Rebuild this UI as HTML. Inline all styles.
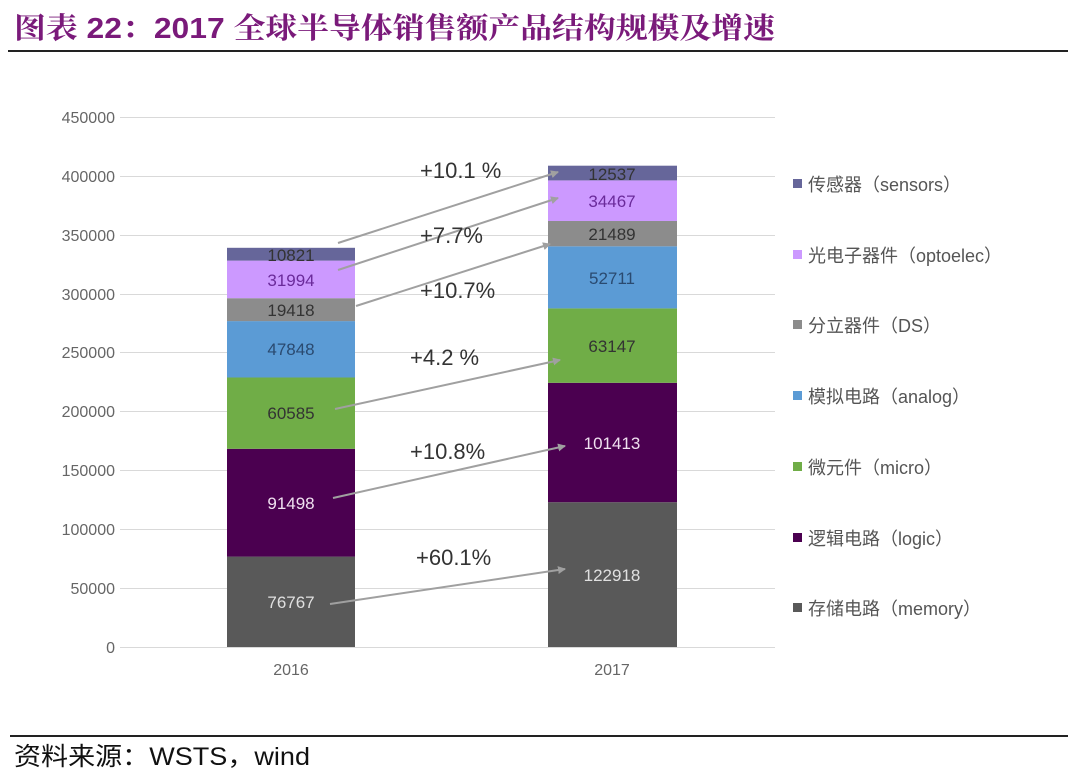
<!DOCTYPE html>
<html><head><meta charset="utf-8"><style>
html,body{margin:0;padding:0;background:#fff;}
svg{display:block;}
</style></head><body>
<svg width="1080" height="784" xmlns="http://www.w3.org/2000/svg" font-family="Liberation Sans, Noto Sans CJK SC, sans-serif">
<defs><marker id="ah" markerWidth="8" markerHeight="8" refX="7" refY="4" orient="auto" markerUnits="userSpaceOnUse"><path d="M0,0 L8,4 L0,8 z" fill="#a0a0a0"/></marker></defs>
<text x="14" y="38" font-size="29" font-weight="bold" fill="#7a1a7a" textLength="761" lengthAdjust="spacingAndGlyphs" font-family="Liberation Sans, Noto Serif CJK SC, serif">图表 22：2017 全球半导体销售额产品结构规模及增速</text>
<rect x="8" y="50" width="1060" height="2" fill="#222"/>
<g stroke="#d9d9d9" stroke-width="1">
<line x1="120" x2="775" y1="117.5" y2="117.5"/><line x1="120" x2="775" y1="176.5" y2="176.5"/><line x1="120" x2="775" y1="235.5" y2="235.5"/><line x1="120" x2="775" y1="294.5" y2="294.5"/><line x1="120" x2="775" y1="352.5" y2="352.5"/><line x1="120" x2="775" y1="411.5" y2="411.5"/><line x1="120" x2="775" y1="470.5" y2="470.5"/><line x1="120" x2="775" y1="529.5" y2="529.5"/><line x1="120" x2="775" y1="588.5" y2="588.5"/><line x1="120" x2="775" y1="647.5" y2="647.5"/>
</g>
<g font-size="16" fill="#666" text-anchor="end">
<text x="115" y="123">450000</text><text x="115" y="182">400000</text><text x="115" y="241">350000</text><text x="115" y="300">300000</text><text x="115" y="358">250000</text><text x="115" y="417">200000</text><text x="115" y="476">150000</text><text x="115" y="535">100000</text><text x="115" y="594">50000</text><text x="115" y="653">0</text>
</g>
<rect x="227" y="556.6" width="128" height="90.4" fill="#595959"/>
<rect x="227" y="448.8" width="128" height="107.8" fill="#4b0050"/>
<rect x="227" y="377.5" width="128" height="71.3" fill="#70ad47"/>
<rect x="227" y="321.1" width="128" height="56.4" fill="#5b9bd5"/>
<rect x="227" y="298.2" width="128" height="22.9" fill="#8c8c8c"/>
<rect x="227" y="260.6" width="128" height="37.6" fill="#cc99ff"/>
<rect x="227" y="247.8" width="128" height="12.8" fill="#66669a"/>
<rect x="548" y="502.2" width="129" height="144.8" fill="#595959"/>
<rect x="548" y="382.8" width="129" height="119.4" fill="#4b0050"/>
<rect x="548" y="308.4" width="129" height="74.4" fill="#70ad47"/>
<rect x="548" y="246.3" width="129" height="62.1" fill="#5b9bd5"/>
<rect x="548" y="221.0" width="129" height="25.3" fill="#8c8c8c"/>
<rect x="548" y="180.4" width="129" height="40.6" fill="#cc99ff"/>
<rect x="548" y="165.7" width="129" height="14.7" fill="#66669a"/>
<g font-size="17" text-anchor="middle">
<text x="291" y="608" fill="#e0e0e0">76767</text>
<text x="291" y="509" fill="#f0e0f0">91498</text>
<text x="291" y="419" fill="#333">60585</text>
<text x="291" y="355" fill="#2a4a70">47848</text>
<text x="291" y="316" fill="#333">19418</text>
<text x="291" y="286" fill="#6a2a9a">31994</text>
<text x="291" y="261" fill="#333">10821</text>
<text x="612" y="581" fill="#e0e0e0">122918</text>
<text x="612" y="449" fill="#f0e0f0">101413</text>
<text x="612" y="352" fill="#333">63147</text>
<text x="612" y="284" fill="#2a4a70">52711</text>
<text x="612" y="240" fill="#333">21489</text>
<text x="612" y="207" fill="#6a2a9a">34467</text>
<text x="612" y="180" fill="#333">12537</text>
</g>
<g stroke="#a0a0a0" stroke-width="2" marker-end="url(#ah)">
<line x1="338" y1="243" x2="558" y2="172"/>
<line x1="338" y1="270" x2="558" y2="198"/>
<line x1="356" y1="306" x2="550" y2="244"/>
<line x1="335" y1="409" x2="560" y2="360"/>
<line x1="333" y1="498" x2="565" y2="446"/>
<line x1="330" y1="604" x2="565" y2="569"/>
</g>
<g font-size="22" fill="#333">
<text x="420" y="178">+10.1 %</text>
<text x="420" y="243">+7.7%</text>
<text x="420" y="298">+10.7%</text>
<text x="410" y="365">+4.2 %</text>
<text x="410" y="459">+10.8%</text>
<text x="416" y="565">+60.1%</text>
</g>
<g font-size="16" fill="#666" text-anchor="middle">
<text x="291" y="675">2016</text><text x="612" y="675">2017</text>
</g>
<g font-size="18" fill="#555">
<rect x="793" y="179" width="9" height="9" fill="#66669a"/><text x="808" y="191">传感器（sensors）</text>
<rect x="793" y="250" width="9" height="9" fill="#cc99ff"/><text x="808" y="262">光电子器件（optoelec）</text>
<rect x="793" y="320" width="9" height="9" fill="#8c8c8c"/><text x="808" y="332">分立器件（DS）</text>
<rect x="793" y="391" width="9" height="9" fill="#5b9bd5"/><text x="808" y="403">模拟电路（analog）</text>
<rect x="793" y="462" width="9" height="9" fill="#70ad47"/><text x="808" y="474">微元件（micro）</text>
<rect x="793" y="533" width="9" height="9" fill="#4b0050"/><text x="808" y="545">逻辑电路（logic）</text>
<rect x="793" y="603" width="9" height="9" fill="#595959"/><text x="808" y="615">存储电路（memory）</text>
</g>
<rect x="10" y="735" width="1058" height="2" fill="#222"/>
<text x="14" y="765" font-size="25" fill="#111" textLength="296" lengthAdjust="spacingAndGlyphs">资料来源：WSTS，wind</text>
</svg>
</body></html>
